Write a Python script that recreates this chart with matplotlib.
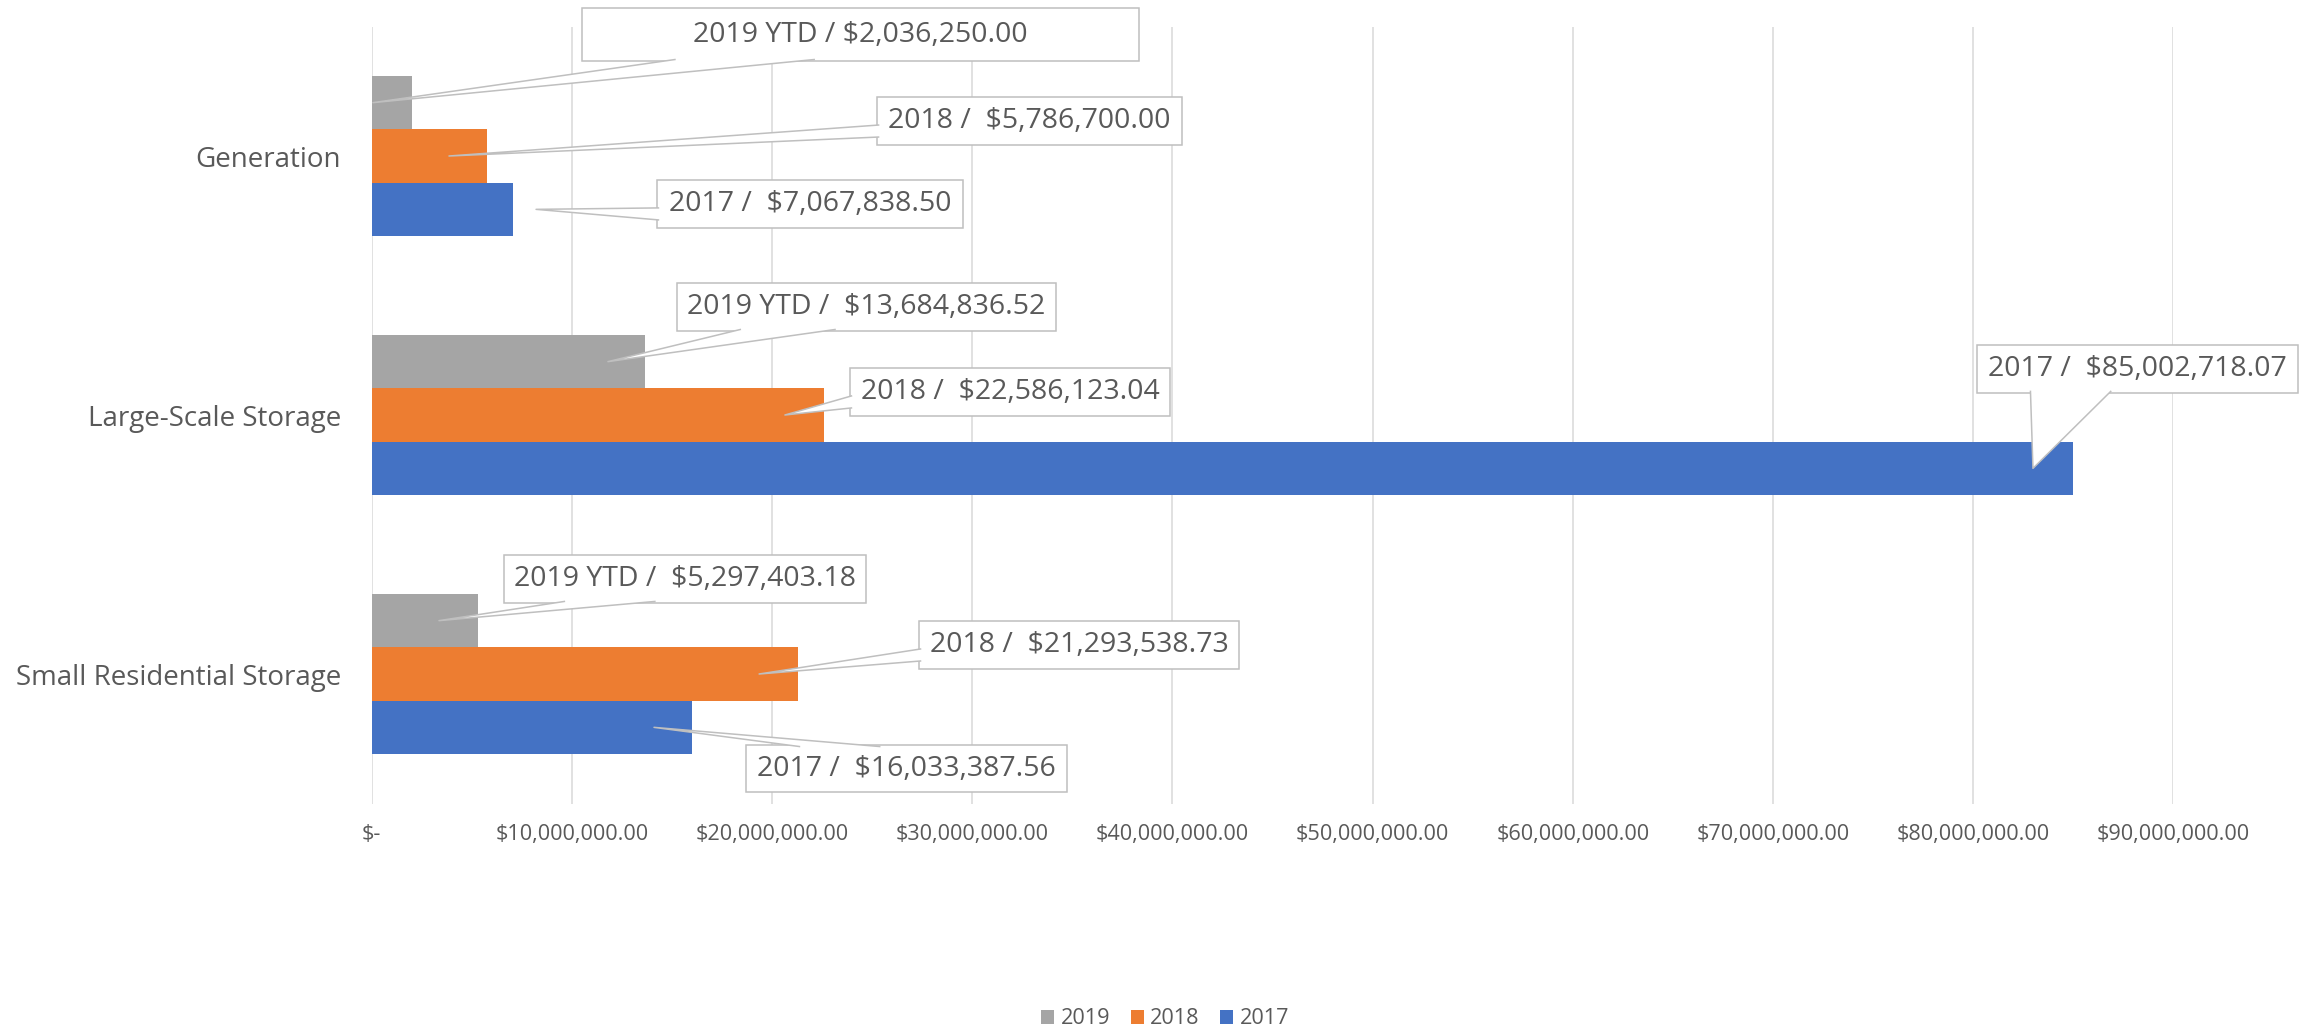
import matplotlib
matplotlib.use("Agg")
import matplotlib.pyplot as plt
from matplotlib.patches import Rectangle, Polygon
from matplotlib.lines import Line2D
import numpy as np

plt.rcParams['font.family'] = ['Open Sans', 'DejaVu Sans']

# ---------------- data ----------------
categories = ["Generation", "Large-Scale Storage", "Small Residential Storage"]
series_names = ["2019", "2018", "2017"]
values_2019 = [2036250.00, 13684836.52, 5297403.18]
values_2018 = [5786700.00, 22586123.04, 21293538.73]
values_2017 = [7067838.50, 85002718.07, 16033387.56]

labels_2019 = ["2019 YTD / $2,036,250.00", "2019 YTD /  $13,684,836.52", "2019 YTD /  $5,297,403.18"]
labels_2018 = ["2018 /  $5,786,700.00", "2018 /  $22,586,123.04", "2018 /  $21,293,538.73"]
labels_2017 = ["2017 /  $7,067,838.50", "2017 /  $85,002,718.07", "2017 /  $16,033,387.56"]

xticks = [0, 10e6, 20e6, 30e6, 40e6, 50e6, 60e6, 70e6, 80e6, 90e6]
xtick_labels = ["$-", "$10,000,000.00", "$20,000,000.00", "$30,000,000.00", "$40,000,000.00",
                "$50,000,000.00", "$60,000,000.00", "$70,000,000.00", "$80,000,000.00",
                "$90,000,000.00"]

colors = {"2019": "#A5A5A5", "2018": "#ED7D31", "2017": "#4472C4"}

# callout placement (label box centres in data units, tip x in data units)
box_cx_2019 = [24.43e6, 24.73e6, 15.66e6]
box_cy_2019 = [-0.469, 0.583, 1.633]
box_w_2019 = [557, 379, 362]
box_h_2019 = [53, 48, 48]
tip_x_2019 = [0.07e6, 11.81e6, 3.37e6]

box_cx_2018 = [32.87e6, 31.89e6, 35.34e6]
box_cy_2018 = [-0.135, 0.911, 1.888]
box_w_2018 = [305, 320, 320]
box_h_2018 = [48, 48, 48]
tip_x_2018 = [3.87e6, 20.65e6, 19.36e6]

box_cx_2017 = [21.90e6, 88.21e6, 26.72e6]
box_cy_2017 = [0.185, 0.822, 2.365]
box_w_2017 = [306, 321, 321]
box_h_2017 = [48, 48, 47]
tip_x_2017 = [8.22e6, 82.99e6, 14.11e6]

# ---------------- figure ----------------
W, H = 2316, 1031
fig = plt.figure(figsize=(W / 100, H / 100), dpi=100)
ax_left, ax_right = 371.5 / W, 2173.3 / W
ax_top, ax_bottom = 1 - 26.5 / H, 1 - 803.5 / H
ax = fig.add_axes([ax_left, ax_bottom, ax_right - ax_left, ax_top - ax_bottom])

text_color = "#595959"
grid_color = "#D9D9D9"
edge_color = "#BFBFBF"

y = np.arange(len(categories))
h = 0.206
offsets = {"2019": -h, "2018": 0.0, "2017": h}
vals = {"2019": values_2019, "2018": values_2018, "2017": values_2017}

for s in series_names:
    ax.barh(y + offsets[s], vals[s], height=h, color=colors[s], label=s, zorder=2,
            linewidth=0)

ax.set_xlim(0, 90e6)
ax.set_ylim(len(categories) - 0.5, -0.5)
ax.set_xticks(xticks)
ax.set_xticklabels(xtick_labels, fontsize=15.6, color=text_color)
ax.set_yticks(y)
ax.set_yticklabels(categories, fontsize=20, color=text_color)
ax.tick_params(axis='x', length=0, pad=15)
ax.tick_params(axis='y', length=0, pad=22)
for sp in ax.spines.values():
    sp.set_visible(False)
ax.set_axisbelow(True)
ax.grid(axis='x', color=grid_color, linewidth=1.1)
ax.grid(axis='y', visible=False)

# pixel-to-data scale
ax_w_px = (ax_right - ax_left) * W
ax_h_px = (ax_top - ax_bottom) * H
dx_per_px = 90e6 / ax_w_px
dy_per_px = len(categories) / ax_h_px


def callout(tx, ty, cx, cy, wpx, hpx, label):
    wd = wpx * dx_per_px
    hd = hpx * dy_per_px
    left, right = cx - wd / 2, cx + wd / 2
    top, bot = cy - hd / 2, cy + hd / 2  # data y grows downward
    ax.add_patch(Rectangle((left, top), wd, hd, facecolor="white", edgecolor=edge_color,
                           linewidth=1.1, zorder=5, clip_on=False))
    ddx = (tx - cx) / dx_per_px
    ddy = (ty - cy) / dy_per_px
    ins_x = 1.5 * dx_per_px
    ins_y = 1.5 * dy_per_px
    if abs(ddx) / wpx > abs(ddy) / hpx:
        ex = left + ins_x if ddx < 0 else right - ins_x
        f = (7 / 12, 10 / 12) if ty > cy else (2 / 12, 5 / 12)
        b1 = (ex, top + f[0] * hd)
        b2 = (ex, top + f[1] * hd)
    else:
        ey = bot - ins_y if ddy > 0 else top + ins_y
        f = (2 / 12, 5 / 12) if tx < cx else (7 / 12, 10 / 12)
        b1 = (left + f[0] * wd, ey)
        b2 = (left + f[1] * wd, ey)
    ax.add_patch(Polygon([b1, (tx, ty), b2], closed=True, facecolor="white",
                         edgecolor="none", zorder=6, clip_on=False))
    ax.add_line(Line2D([b1[0], tx, b2[0]], [b1[1], ty, b2[1]], color=edge_color,
                       linewidth=1.1, zorder=6, clip_on=False))
    ax.text(cx, cy, label, ha="center", va="center", fontsize=20.5, color=text_color,
            zorder=7, clip_on=False)


specs = [
    ("2019", labels_2019, box_cx_2019, box_cy_2019, box_w_2019, box_h_2019, tip_x_2019),
    ("2018", labels_2018, box_cx_2018, box_cy_2018, box_w_2018, box_h_2018, tip_x_2018),
    ("2017", labels_2017, box_cx_2017, box_cy_2017, box_w_2017, box_h_2017, tip_x_2017),
]
for s, labs, cxs, cys, ws, hs, txs in specs:
    for i in range(len(categories)):
        callout(txs[i], y[i] + offsets[s], cxs[i], cys[i], ws[i], hs[i], labs[i])

handles = [Rectangle((0, 0), 1, 1, facecolor=colors[s], edgecolor="none") for s in series_names]
leg = fig.legend(handles, series_names, loc="center", bbox_to_anchor=(1165 / W, 1 - 1019 / H),
                 ncol=3, frameon=False, fontsize=15.6, handlelength=0.6, handleheight=0.6,
                 handletextpad=0.3, columnspacing=0.95, borderaxespad=0, borderpad=0)
for t in leg.get_texts():
    t.set_color(text_color)

fig.savefig("out.png", dpi=100, facecolor="white")
